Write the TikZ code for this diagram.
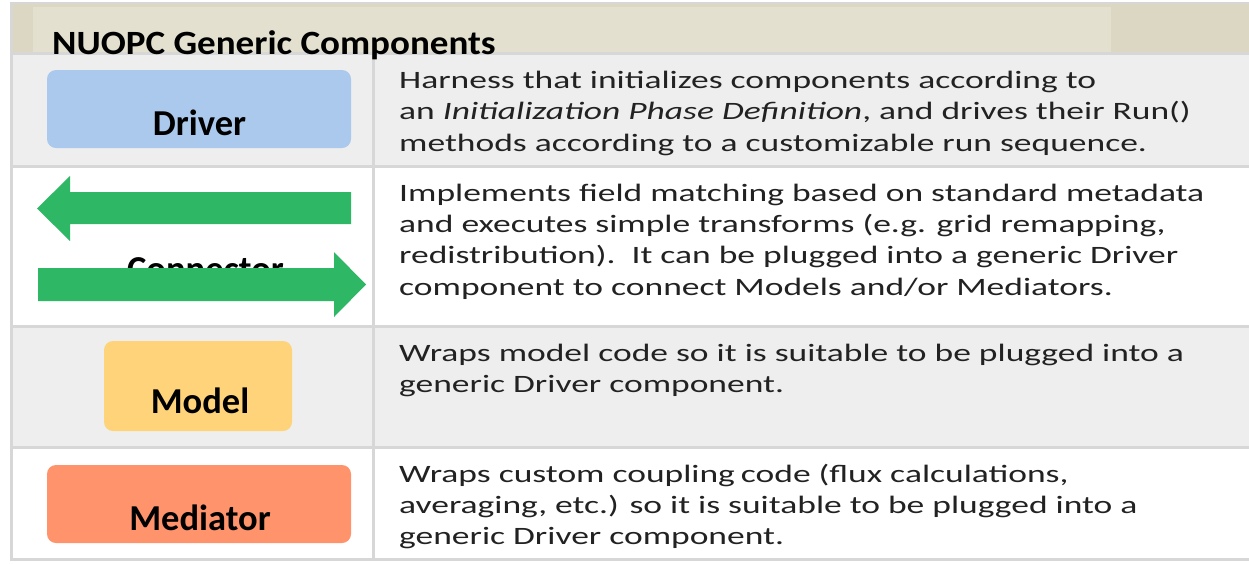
\documentclass[tikz,border=0pt]{standalone}
\usepackage{fontspec}
\setmainfont{Carlito}
\newfontfamily\bodyfont[FakeStretch=1.42]{Carlito}
\newfontfamily\titlefont[FakeStretch=1.09]{Carlito}
\newfontfamily\labelfont{Carlito}
\definecolor{bandlight}{RGB}{227,224,207}
\definecolor{banddark}{RGB}{220,215,194}
\definecolor{rowgray}{RGB}{238,238,238}
\definecolor{gridgray}{RGB}{215,215,215}
\definecolor{driverblue}{RGB}{171,201,236}
\definecolor{modelyellow}{RGB}{254,211,121}
\definecolor{medorange}{RGB}{255,147,108}
\definecolor{arrowgreen}{RGB}{46,184,102}
\definecolor{bodytext}{RGB}{34,34,34}
\tikzset{
  body/.style={anchor=base west, inner sep=0pt, text=bodytext, font=\bodyfont\fontsize{25}{30}\selectfont},
  lbl/.style={anchor=base, inner sep=0pt, text=black, font=\labelfont\bfseries\fontsize{36.5}{40}\selectfont},
  compbox/.style={rectangle, rounded corners=9pt, inner sep=0pt, draw=none},
  grid/.style={draw=gridgray, line width=3pt},
  blockarrow/.style={fill=arrowgreen, draw=none}
}
\begin{document}
\begin{tikzpicture}[x=1pt,y=-1pt]
\useasboundingbox (0,0) rectangle (1249,563);
\fill[white] (0,0) rectangle (1249,563);
% title band
\fill[banddark] (10,3) rectangle (1249,53);
\fill[bandlight] (33,7) rectangle (1111,53);
\draw[gridgray, line width=2pt] (10,3) -- (1249,3);
% rows
\fill[rowgray] (10,53) rectangle (1249,166);
\fill[white] (10,166) rectangle (1249,326);
\fill[rowgray] (10,326) rectangle (1249,447);
\fill[white] (10,447) rectangle (1249,559);
% grid lines
\draw[grid] (10,53) -- (1249,53);
\draw[grid] (10,166) -- (1249,166);
\draw[grid] (10,326) -- (1249,326);
\draw[grid] (10,447) -- (1249,447);
\draw[grid] (10,559) -- (1249,559);
\draw[grid] (11,3) -- (11,560);
\draw[grid] (373,53) -- (373,560);
% title
\node[anchor=base west, inner sep=0pt, font=\titlefont\bfseries\fontsize{34}{40}\selectfont] (title) at (52,54) {NUOPC Generic Components};
% component boxes
\node[compbox, fill=driverblue, minimum width=304pt, minimum height=78pt] (driverbox) at (199,109) {};
\node[lbl] (driver) at (199.5,135) {Driver};
\node[lbl] (connector) at (205.5,281) {Connector};
\fill[blockarrow] (351,192) -- (70,192) -- (70,176) -- (37,208.5) -- (70,241) -- (70,224) -- (351,224) -- cycle;
\fill[blockarrow] (38,268) -- (334,268) -- (334,252) -- (366,284.5) -- (334,317) -- (334,301) -- (38,301) -- cycle;
\node[compbox, fill=modelyellow, minimum width=188pt, minimum height=90pt] (modelbox) at (198,386) {};
\node[lbl] (model) at (200,413) {Model};
\node[compbox, fill=medorange, minimum width=304pt, minimum height=78pt] (mediatorbox) at (199,504) {};
\node[lbl] (mediator) at (200,530) {Mediator};
% descriptions
\node[body] (d1a) at (399,88) {Harness that initializes components according to};
\node[body] (d1b) at (399,119.5) {an \textit{Initialization Phase Definition}, and drives their Run()};
\node[body] (d1c) at (399,151) {methods according to a customizable run sequence.};
\node[body] (d2a) at (399,201) {Implements field matching based on standard metadata};
\node[body] (d2b) at (399,232) {and executes simple transforms (e.g. grid remapping,};
\node[body] (d2c) at (399,263.5) {redistribution).\ \ It can be plugged into a generic Driver};
\node[body] (d2d) at (399,295) {component to connect Models and/or Mediators.};
\node[body] (d3a) at (399,361) {Wraps model code so it is suitable to be plugged into a};
\node[body] (d3b) at (399,392) {generic Driver component.};
\node[body] (d4a) at (399,482) {Wraps custom coupling\hspace{-2pt} code (flux calculations,};
\node[body] (d4b) at (399,513) {averaging, etc.) so it is suitable to be plugged into a};
\node[body] (d4c) at (399,544) {generic Driver component.};
\end{tikzpicture}
\end{document}
